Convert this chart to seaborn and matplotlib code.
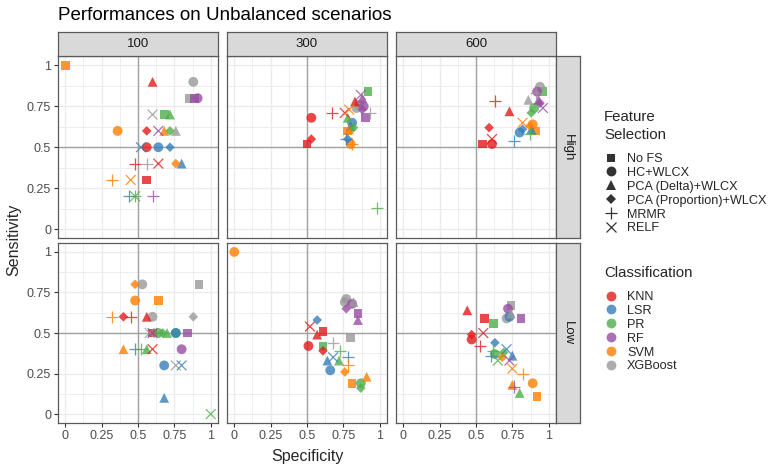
import numpy as np
import pandas as pd
import seaborn as sns
import matplotlib.pyplot as plt
from matplotlib.lines import Line2D

W, H = 773, 469

sizes = ["100", "300", "600"]
scenarios = ["High", "Low"]
classifiers = ["KNN", "LSR", "PR", "RF", "SVM", "XGBoost"]
fs_codes = ["NoFS", "HC", "PCAd", "PCAp", "MRMR", "RELF"]
fs_labels = ["No FS", "HC+WLCX", "PCA (Delta)+WLCX", "PCA (Proportion)+WLCX", "MRMR", "RELF"]
clf_colors = ["#E41A1C", "#377EB8", "#4DAF4A", "#984EA3", "#FF7F00", "#999999"]
fs_markers = ["s", "o", "^", "D", "+", "x"]
fs_msize = [40, 50, 50, 24, 75, 50]

# (classifier, feature selection, specificity, sensitivity)
high_100 = [
    ("SVM", "NoFS", 0.00, 1.00), ("KNN", "PCAd", 0.60, 0.90), ("XGBoost", "HC", 0.88, 0.90),
    ("XGBoost", "NoFS", 0.85, 0.80), ("RF", "NoFS", 0.89, 0.80), ("RF", "HC", 0.91, 0.80),
    ("XGBoost", "RELF", 0.60, 0.70), ("PR", "NoFS", 0.68, 0.70), ("PR", "PCAd", 0.72, 0.70),
    ("SVM", "HC", 0.36, 0.60), ("KNN", "PCAp", 0.56, 0.60), ("RF", "RELF", 0.64, 0.60),
    ("SVM", "PCAd", 0.68, 0.60), ("PR", "PCAp", 0.72, 0.60), ("XGBoost", "PCAd", 0.76, 0.60),
    ("LSR", "RELF", 0.52, 0.50), ("KNN", "HC", 0.56, 0.50), ("LSR", "HC", 0.64, 0.50),
    ("LSR", "PCAp", 0.72, 0.50), ("KNN", "MRMR", 0.48, 0.40), ("XGBoost", "MRMR", 0.56, 0.40),
    ("KNN", "RELF", 0.64, 0.40), ("SVM", "PCAp", 0.76, 0.40), ("LSR", "PCAd", 0.80, 0.40),
    ("SVM", "MRMR", 0.32, 0.30), ("SVM", "RELF", 0.45, 0.30), ("KNN", "NoFS", 0.56, 0.30),
    ("LSR", "MRMR", 0.44, 0.20), ("PR", "MRMR", 0.48, 0.20), ("PR", "RELF", 0.48, 0.20),
    ("RF", "MRMR", 0.60, 0.20),
]
high_300 = [
    ("KNN", "NoFS", 0.50, 0.52), ("KNN", "PCAp", 0.53, 0.55), ("KNN", "HC", 0.53, 0.68),
    ("KNN", "MRMR", 0.67, 0.71), ("KNN", "RELF", 0.76, 0.71), ("SVM", "RELF", 0.79, 0.73),
    ("KNN", "PCAd", 0.83, 0.78), ("RF", "RELF", 0.87, 0.82), ("PR", "NoFS", 0.92, 0.84),
    ("RF", "PCAd", 0.88, 0.80), ("XGBoost", "NoFS", 0.86, 0.76), ("XGBoost", "HC", 0.84, 0.74),
    ("RF", "HC", 0.89, 0.75), ("XGBoost", "MRMR", 0.93, 0.71), ("RF", "PCAp", 0.88, 0.73),
    ("RF", "NoFS", 0.90, 0.68), ("PR", "PCAd", 0.78, 0.68), ("LSR", "HC", 0.81, 0.65),
    ("PR", "PCAp", 0.82, 0.62), ("LSR", "PCAd", 0.80, 0.63), ("SVM", "NoFS", 0.78, 0.60),
    ("SVM", "PCAd", 0.79, 0.61), ("LSR", "PCAp", 0.78, 0.55), ("SVM", "HC", 0.80, 0.52),
    ("SVM", "MRMR", 0.81, 0.52), ("LSR", "MRMR", 0.77, 0.55), ("PR", "MRMR", 0.98, 0.13),
]
high_600 = [
    ("KNN", "NoFS", 0.545, 0.52), ("KNN", "RELF", 0.61, 0.55), ("KNN", "HC", 0.61, 0.52),
    ("KNN", "PCAp", 0.59, 0.62), ("KNN", "MRMR", 0.63, 0.78), ("KNN", "PCAd", 0.73, 0.72),
    ("LSR", "MRMR", 0.76, 0.54), ("LSR", "HC", 0.80, 0.59), ("LSR", "PCAp", 0.82, 0.61),
    ("SVM", "RELF", 0.82, 0.65), ("SVM", "HC", 0.89, 0.64), ("SVM", "NoFS", 0.91, 0.60),
    ("LSR", "PCAd", 0.88, 0.61), ("PR", "MRMR", 0.87, 0.58), ("SVM", "PCAp", 0.87, 0.63),
    ("PR", "HC", 0.90, 0.74), ("PR", "PCAp", 0.88, 0.71), ("XGBoost", "PCAd", 0.86, 0.79),
    ("XGBoost", "HC", 0.94, 0.87), ("RF", "HC", 0.92, 0.84), ("RF", "PCAd", 0.93, 0.79),
    ("PR", "NoFS", 0.96, 0.84), ("RF", "RELF", 0.96, 0.74), ("RF", "PCAp", 0.94, 0.77),
    ("XGBoost", "MRMR", 0.91, 0.83),
]
low_100 = [
    ("SVM", "PCAp", 0.48, 0.80), ("XGBoost", "HC", 0.53, 0.80), ("XGBoost", "NoFS", 0.92, 0.80),
    ("SVM", "HC", 0.48, 0.70), ("SVM", "NoFS", 0.64, 0.70), ("SVM", "MRMR", 0.32, 0.60),
    ("KNN", "PCAp", 0.40, 0.60), ("KNN", "MRMR", 0.45, 0.60), ("KNN", "PCAd", 0.56, 0.60),
    ("XGBoost", "HC", 0.60, 0.60), ("XGBoost", "PCAp", 0.88, 0.60), ("XGBoost", "RELF", 0.58, 0.50),
    ("KNN", "NoFS", 0.60, 0.50), ("RF", "RELF", 0.60, 0.50), ("PR", "HC", 0.64, 0.50),
    ("PR", "PCAp", 0.67, 0.50), ("PR", "PCAd", 0.70, 0.50), ("PR", "HC", 0.76, 0.50),
    ("LSR", "HC", 0.76, 0.50), ("RF", "NoFS", 0.84, 0.50), ("SVM", "PCAd", 0.40, 0.40),
    ("LSR", "MRMR", 0.48, 0.40), ("PR", "MRMR", 0.52, 0.40), ("PR", "PCAd", 0.56, 0.40),
    ("KNN", "RELF", 0.60, 0.40), ("RF", "HC", 0.80, 0.40), ("LSR", "HC", 0.68, 0.30),
    ("XGBoost", "RELF", 0.76, 0.30), ("LSR", "RELF", 0.80, 0.30), ("LSR", "PCAd", 0.68, 0.10),
    ("PR", "RELF", 1.00, 0.00),
]
low_300 = [
    ("SVM", "HC", 0.00, 1.00), ("XGBoost", "HC", 0.77, 0.71), ("XGBoost", "HC", 0.76, 0.69),
    ("RF", "HC", 0.81, 0.68), ("XGBoost", "PCAd", 0.82, 0.69), ("RF", "PCAp", 0.77, 0.65),
    ("RF", "NoFS", 0.85, 0.62), ("RF", "PCAd", 0.85, 0.58), ("LSR", "PCAp", 0.57, 0.58),
    ("KNN", "RELF", 0.52, 0.54), ("KNN", "NoFS", 0.61, 0.51), ("KNN", "PCAd", 0.57, 0.49),
    ("XGBoost", "NoFS", 0.80, 0.47), ("XGBoost", "MRMR", 0.68, 0.44), ("KNN", "HC", 0.51, 0.42),
    ("PR", "NoFS", 0.61, 0.42), ("KNN", "PCAp", 0.61, 0.39), ("PR", "MRMR", 0.73, 0.39),
    ("LSR", "PCAd", 0.64, 0.33), ("LSR", "RELF", 0.68, 0.35), ("PR", "PCAd", 0.72, 0.33),
    ("LSR", "MRMR", 0.78, 0.35), ("SVM", "MRMR", 0.78, 0.30), ("LSR", "HC", 0.66, 0.27),
    ("SVM", "PCAp", 0.76, 0.26), ("SVM", "NoFS", 0.81, 0.19), ("PR", "HC", 0.87, 0.19),
    ("PR", "PCAp", 0.87, 0.16), ("SVM", "PCAd", 0.91, 0.23),
]
low_600 = [
    ("KNN", "PCAd", 0.44, 0.64), ("KNN", "NoFS", 0.56, 0.59), ("PR", "NoFS", 0.62, 0.56),
    ("XGBoost", "NoFS", 0.74, 0.67), ("RF", "HC", 0.72, 0.65), ("XGBoost", "HC", 0.71, 0.59),
    ("LSR", "HC", 0.73, 0.60), ("XGBoost", "PCAd", 0.74, 0.62), ("RF", "NoFS", 0.81, 0.59),
    ("KNN", "PCAp", 0.47, 0.49), ("KNN", "HC", 0.47, 0.46), ("KNN", "RELF", 0.55, 0.50),
    ("KNN", "MRMR", 0.53, 0.42), ("LSR", "PCAp", 0.63, 0.44), ("LSR", "MRMR", 0.60, 0.36),
    ("PR", "MRMR", 0.62, 0.39), ("PR", "HC", 0.63, 0.37), ("PR", "PCAp", 0.69, 0.38),
    ("PR", "RELF", 0.65, 0.33), ("SVM", "PCAp", 0.68, 0.35), ("LSR", "RELF", 0.71, 0.40),
    ("LSR", "PCAd", 0.75, 0.36), ("RF", "RELF", 0.73, 0.33), ("SVM", "RELF", 0.75, 0.28),
    ("SVM", "MRMR", 0.82, 0.25), ("SVM", "HC", 0.89, 0.19), ("SVM", "PCAd", 0.75, 0.18),
    ("RF", "MRMR", 0.76, 0.17), ("PR", "PCAd", 0.80, 0.13), ("SVM", "NoFS", 0.92, 0.11),
]

panels = {
    ("High", "100"): high_100, ("High", "300"): high_300, ("High", "600"): high_600,
    ("Low", "100"): low_100, ("Low", "300"): low_300, ("Low", "600"): low_600,
}
rows = []
for (sc, n), pts in panels.items():
    for clf, fs, sp, se in pts:
        rows.append((sc, n, clf, fs, sp, se))
df = pd.DataFrame(rows, columns=["scenario", "size", "clf", "fs", "spec", "sens"])

palette = dict(zip(classifiers, clf_colors))

sns.set_style("white")
plt.rcParams["font.family"] = ["Liberation Sans", "DejaVu Sans"]

fig = plt.figure(figsize=(W / 100, H / 100), dpi=100)


def rect(x0, y0, x1, y1):
    return [x0 / W, 1 - y1 / H, (x1 - x0) / W, (y1 - y0) / H]


col_x = [(58, 218), (227, 387), (396, 556)]
row_y = [(56.5, 238), (243, 423)]
border = "#5a5a5a"

for i, sc in enumerate(scenarios):
    for j, n in enumerate(sizes):
        x0, x1 = col_x[j]
        y0, y1 = row_y[i]
        ax = fig.add_axes(rect(x0, y0, x1, y1))
        sub = df[(df["scenario"] == sc) & (df["size"] == n)]
        ax.axhline(0.5, color="#a3a3a3", lw=1.0, zorder=1.5)
        ax.axvline(0.5, color="#a3a3a3", lw=1.0, zorder=1.5)
        for code, m, s in zip(fs_codes, fs_markers, fs_msize):
            d = sub[sub["fs"] == code]
            if d.empty:
                continue
            filled = m not in ("+", "x")
            sns.scatterplot(data=d, x="spec", y="sens", hue="clf", palette=palette,
                            marker=m, s=s, alpha=0.8, ax=ax, legend=False,
                            linewidth=0 if filled else 0.9, zorder=3)
        ax.set_xlim(-0.05, 1.05)
        ax.set_ylim(-0.055, 1.055)
        ticks = [0, 0.25, 0.5, 0.75, 1]
        ax.set_xticks(ticks)
        ax.set_yticks(ticks)
        ax.set_xticks([0.125, 0.375, 0.625, 0.875], minor=True)
        ax.set_yticks([0.125, 0.375, 0.625, 0.875], minor=True)
        ax.set_xticklabels(["0", "0.25", "0.5", "0.75", "1"])
        ax.set_yticklabels(["0", "0.25", "0.5", "0.75", "1"])
        ax.grid(which="major", color="#ebebeb", lw=1.0)
        ax.grid(which="minor", color="#ebebeb", lw=0.6)
        ax.set_axisbelow(True)
        ax.tick_params(which="minor", length=0)
        ax.tick_params(which="major", length=3, width=0.8, color="#333333",
                       labelsize=9, labelcolor="#4d4d4d", pad=2,
                       left=(j == 0), labelleft=(j == 0),
                       bottom=(i == 1), labelbottom=(i == 1))
        ax.set_xlabel("")
        ax.set_ylabel("")
        for sp in ax.spines.values():
            sp.set_color(border)
            sp.set_linewidth(0.9)
        if i == 0:
            st = fig.add_axes(rect(x0, 32, x1, 56.5))
            st.set_facecolor("#d9d9d9")
            st.set_xticks([])
            st.set_yticks([])
            for sp in st.spines.values():
                sp.set_color(border)
                sp.set_linewidth(0.9)
            st.text(0.5, 0.5, n, ha="center", va="center", fontsize=9.5,
                    color="#1a1a1a", transform=st.transAxes)
        if j == 2:
            st = fig.add_axes(rect(556, y0, 580, y1))
            st.set_facecolor("#d9d9d9")
            st.set_xticks([])
            st.set_yticks([])
            for sp in st.spines.values():
                sp.set_color(border)
                sp.set_linewidth(0.9)
            st.text(0.5, 0.5, sc, ha="center", va="center", fontsize=9.5,
                    rotation=-90, color="#1a1a1a", transform=st.transAxes)

fig.text(58 / W, 1 - 20 / H, "Performances on Unbalanced scenarios",
         fontsize=13.5, ha="left", va="baseline", color="black")
fig.text(307 / W, 1 - 456 / H, "Specificity", fontsize=11.5, ha="center", va="center")
fig.text(14 / W, 1 - 240 / H, "Sensitivity", fontsize=11.5, ha="center", va="center",
         rotation=90)

# legends: titles as text, keys via fig.legend
fig.text(604 / W, 1 - 117 / H, "Feature", fontsize=10.8, ha="left", va="center")
fig.text(604 / W, 1 - 135 / H, "Selection", fontsize=10.8, ha="left", va="center")
fig.text(604 / W, 1 - 273 / H, "Classification", fontsize=10.8, ha="left", va="center")

fs_handles = [Line2D([], [], marker=m, linestyle="", color="black", alpha=0.8,
                     markersize=np.sqrt(s), markeredgewidth=0.9 if m in ("+", "x") else 0)
              for m, s in zip(fs_markers, fs_msize)]
clf_handles = [Line2D([], [], marker="o", linestyle="", color=c, alpha=0.8,
                      markersize=np.sqrt(50), markeredgewidth=0) for c in clf_colors]

leg_kw = dict(loc="upper left", frameon=False, fontsize=9.1,
              borderpad=0, borderaxespad=0, handlelength=1.3,
              handletextpad=0.6, labelspacing=0.15)
fig.legend(fs_handles, fs_labels, bbox_to_anchor=(603 / W, 1 - 153 / H), **leg_kw)
fig.legend(clf_handles, classifiers, bbox_to_anchor=(603 / W, 1 - 291 / H), **leg_kw)

fig.savefig("out.png", dpi=100)
